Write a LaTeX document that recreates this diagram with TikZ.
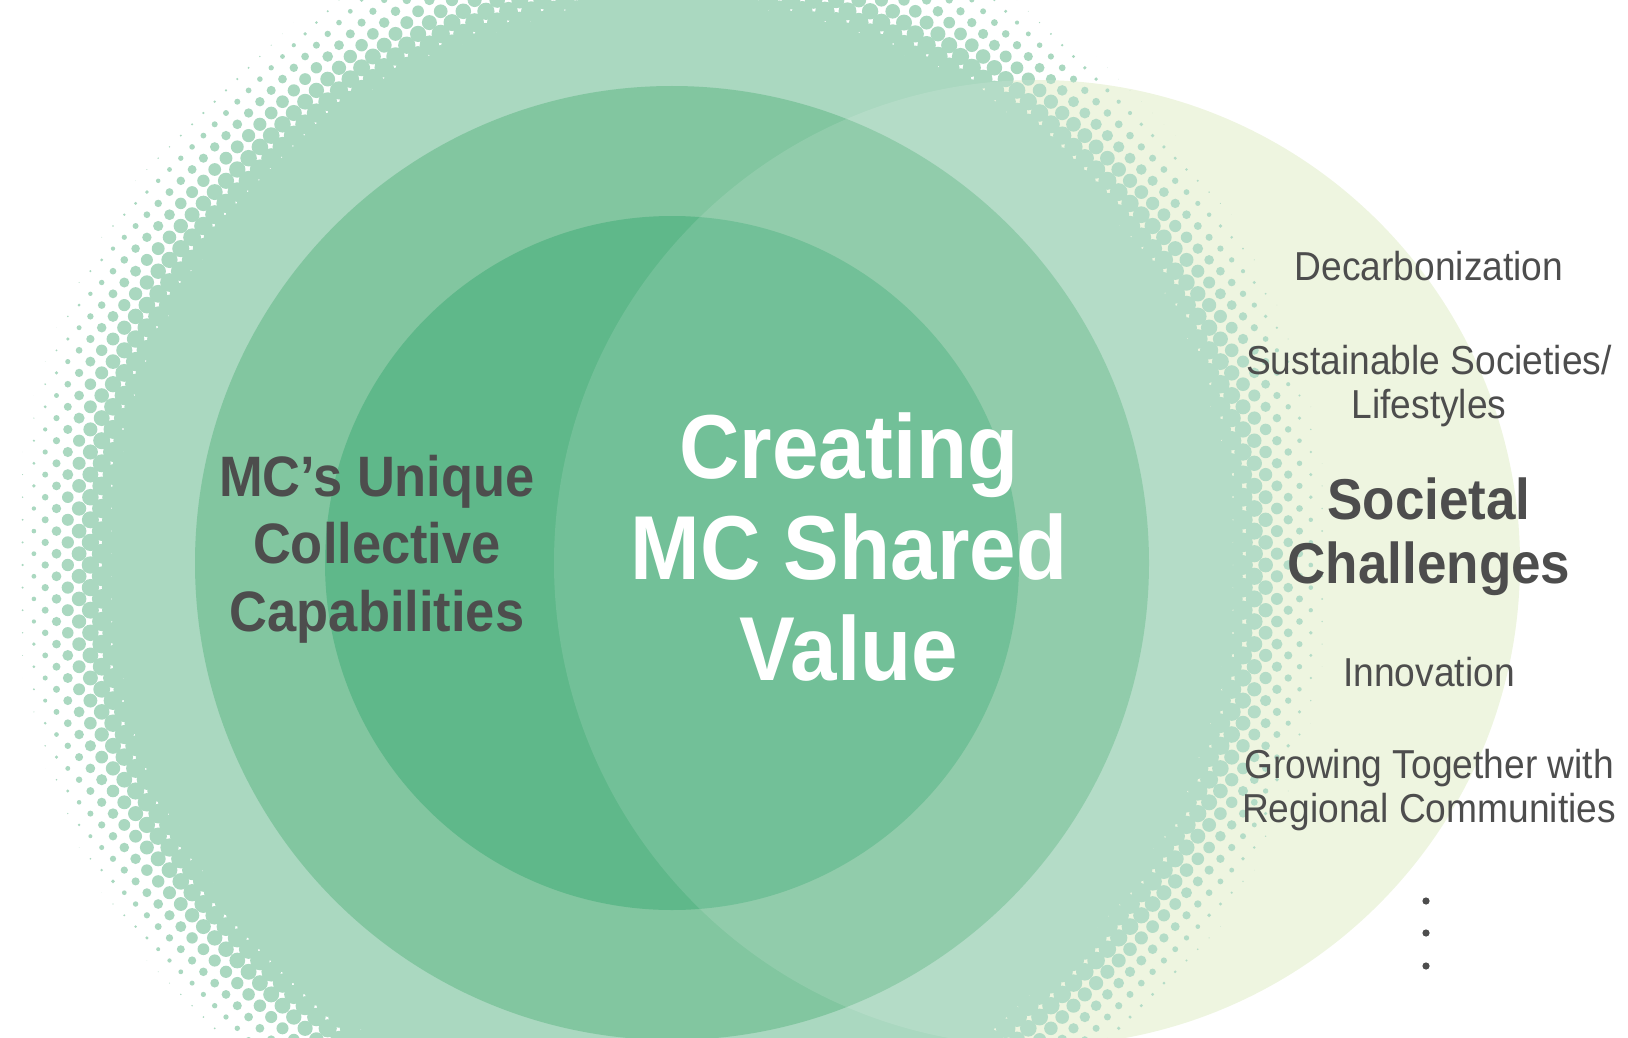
\documentclass[tikz,border=0pt]{standalone}
\usepackage{fontspec}
\setmainfont{Liberation Sans}[FakeStretch=0.92]
\definecolor{ringA}{HTML}{AAD8C0}
\definecolor{ringB}{HTML}{82C6A0}
\definecolor{ringC}{HTML}{5FB88A}
\definecolor{paleC}{HTML}{ECF4DC}
\definecolor{txt}{HTML}{4D4D4D}
\tikzset{
  htdot/.style={fill=ringA},
  bigwhite/.style={text=white, inner sep=0pt, align=center, font=\bfseries\fontsize{45.4}{50.4}\selectfont},
  leftbold/.style={text=txt, inner sep=0pt, align=center, font=\bfseries\fontsize{28.5}{33.7}\selectfont},
  rightreg/.style={text=txt, inner sep=0pt, align=center, font=\fontsize{20.2}{22.3}\selectfont},
  rightbold/.style={text=txt, inner sep=0pt, align=center, font=\bfseries\fontsize{28.8}{32}\selectfont},
  ellipsisdot/.style={fill=txt}
}
\begin{document}
\begin{tikzpicture}[x=0.5pt,y=-0.5pt]
\useasboundingbox (0,0) rectangle (1628,1038);
\begin{scope}
  \clip (0,0) rectangle (1628,1038);
  % societal challenges circle
  \fill[paleC] (1037,563) circle[radius=483];
  % outer ring with halftone edge
  \fill[ringA] (672,563) circle[radius=558];
  \foreach \j in {0,...,92}{
    \pgfmathtruncatemacro\rowodd{mod(\j,2)}
    \foreach \k in {0,...,59}{
      \pgfmathsetmacro\xx{(2*\k+\rowodd)*11.3}
      \pgfmathsetmacro\yy{\j*11.3}
      \pgfmathsetmacro\dd{10*veclen((\xx-672)/10,(\yy-563)/10)}
      \ifdim\dd pt>534pt
        \ifdim\dd pt<660pt
          \pgfmathsetmacro\rr{11.3*(660-\dd)/102}
          \fill[htdot] (\xx,\yy) circle[radius=\rr];
        \fi
      \fi
    }
  }
  \fill[ringB] (672,563) circle[radius=477];
  \fill[ringC] (672,563) circle[radius=347];
  \begin{scope}
    \clip (1037,563) circle[radius=483];
    \fill[white,opacity=0.12] (0,0) rectangle (1628,1038);
  \end{scope}
\end{scope}
% texts
\node[bigwhite] (csv) at (849,547) {Creating\\MC Shared\\Value};
\node[leftbold] (mcu) at (377,549) {MC’s Unique\\Collective\\Capabilities};
\node[rightreg] (dec) at (1429,266) {Decarbonization};
\node[rightreg] (sus) at (1429,386) {Sustainable Societies/\\Lifestyles};
\node[rightbold] (soc) at (1429,537) {Societal\\Challenges};
\node[rightreg] (inn) at (1429,672) {Innovation};
\node[rightreg] (grw) at (1429,790) {Growing Together with\\Regional Communities};
\fill[ellipsisdot] (1426,901) circle[radius=3.6];
\fill[ellipsisdot] (1426,933) circle[radius=3.6];
\fill[ellipsisdot] (1426,966) circle[radius=3.6];
\end{tikzpicture}
\end{document}
